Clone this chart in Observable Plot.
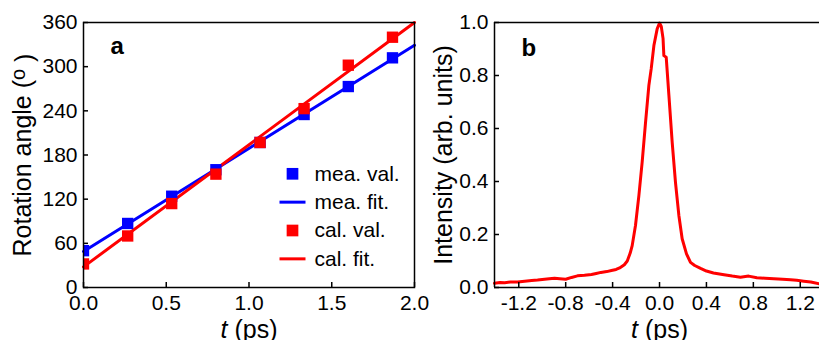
<!DOCTYPE html>
<html>
<head>
<meta charset="utf-8">
<script src="https://cdn.jsdelivr.net/npm/d3@7"></script>
<script src="https://cdn.jsdelivr.net/npm/@observablehq/plot@0.6"></script>
<style>
  html, body { margin: 0; padding: 0; background: #fff; }
  #chart { display: flex; width: 819px; height: 340px; overflow: hidden; }
  #chart svg { overflow: visible; }
</style>
</head>
<body>
<div id="chart"></div>
<script>
// ---------- Panel a data ----------
const timesA = [0, 0.267, 0.533, 0.8, 1.067, 1.333, 1.6, 1.867];
const meaVal = [50, 87, 124, 160, 197, 235, 273, 312];
const calVal = [32, 70, 114, 154, 197, 243, 302, 340];
const fitT = [0, 2];
const meaFit = [49, 329];
const calFit = [28, 360];
const xTicksA = [0, 0.5, 1.0, 1.5, 2.0];
const yTicksA = [0, 60, 120, 180, 240, 300, 360];
const legendLabels = ["mea. val.", "mea. fit.", "cal. val.", "cal. fit."];

// ---------- Panel b data ----------
const pulseT = [-1.407, -1.36, -1.32, -1.27, -1.21, -1.15, -1.09, -1.04, -0.98, -0.94, -0.895, -0.85, -0.80, -0.75,
  -0.70, -0.64, -0.58, -0.54, -0.50, -0.45, -0.41, -0.37, -0.34, -0.30, -0.275, -0.25, -0.233, -0.205, -0.176,
  -0.148, -0.119, -0.091, -0.071, -0.048, -0.020, 0.0, 0.015, 0.030, 0.037, 0.057, 0.080, 0.108, 0.136, 0.165,
  0.193, 0.230, 0.264, 0.30, 0.35, 0.40, 0.46, 0.55, 0.62, 0.69, 0.76, 0.83, 0.90, 0.975, 1.05, 1.117, 1.17, 1.23,
  1.29, 1.364];
const pulseI = [0.016, 0.019, 0.018, 0.021, 0.021, 0.024, 0.026, 0.028, 0.031, 0.033, 0.035, 0.033, 0.031, 0.038,
  0.044, 0.046, 0.049, 0.053, 0.057, 0.060, 0.064, 0.068, 0.074, 0.086, 0.10, 0.13, 0.158, 0.234, 0.347,
  0.473, 0.624, 0.762, 0.825, 0.913, 0.976, 0.998, 0.985, 0.940, 0.875, 0.869, 0.725, 0.548, 0.397, 0.272,
  0.184, 0.127, 0.095, 0.083, 0.072, 0.062, 0.055, 0.048, 0.043, 0.039, 0.043, 0.037, 0.035, 0.033, 0.031, 0.029, 0.027, 0.024,
  0.021, 0.014];
const xDomainB = [-1.407, 1.364];
const yDomainB = [0, 1];
const xTicksB = [-1.2, -0.8, -0.4, 0, 0.4, 0.8, 1.2];
const yTicksB = [0, 0.2, 0.4, 0.6, 0.8, 1.0];

// ---------- styles ----------
const FONT = "'Liberation Sans', Arial, Helvetica, sans-serif";
const BLUE = "#0000ff";
const RED = "#ff0000";
const TICK_FS = 21, LABEL_FS = 25;

const meaRows = timesA.map((t, i) => ({t, v: meaVal[i]}));
const calRows = timesA.map((t, i) => ({t, v: calVal[i]}));
const meaFitRows = fitT.map((t, i) => ({t, v: meaFit[i]}));
const calFitRows = fitT.map((t, i) => ({t, v: calFit[i]}));
const pulseRows = pulseT.map((t, i) => ({t, v: pulseI[i]}));

const dash = {draw(ctx) { ctx.moveTo(-13, 0); ctx.lineTo(13, 0); }};
const legendSpec = [
  {label: legendLabels[0], color: BLUE, kind: "square"},
  {label: legendLabels[1], color: BLUE, kind: "line"},
  {label: legendLabels[2], color: RED, kind: "square"},
  {label: legendLabels[3], color: RED, kind: "line"}
];
const legendMarks = [];
legendSpec.forEach((s, i) => {
  const dy = 151.3 + i * 28.35;
  if (s.kind === "square") {
    legendMarks.push(Plot.dot([s], {frameAnchor: "top-left", dx: 209, dy, symbol: "square", r: 6.6, fill: s.color, stroke: "none"}));
  } else {
    legendMarks.push(Plot.dot([s], {frameAnchor: "top-left", dx: 209, dy, symbol: dash, r: 5, fill: "none", stroke: s.color, strokeWidth: 3}));
  }
  legendMarks.push(Plot.text([s], {frameAnchor: "top-left", dx: 231, dy, text: "label", textAnchor: "start", lineAnchor: "middle", fontSize: TICK_FS, fill: "#000"}));
});

const fmt1 = d => (+d).toFixed(1);

const plotA = Plot.plot({
  width: 420, height: 340,
  marginLeft: 83, marginRight: 6, marginTop: 22, marginBottom: 53,
  style: {fontFamily: FONT, fontSize: TICK_FS + "px", color: "#000", background: "transparent", overflow: "visible"},
  x: {domain: [0, 2]},
  y: {domain: [0, 360]},
  marks: [
    Plot.line(meaFitRows, {x: "t", y: "v", stroke: BLUE, strokeWidth: 3}),
    Plot.line(calFitRows, {x: "t", y: "v", stroke: RED, strokeWidth: 3}),
    Plot.dot(meaRows, {x: "t", y: "v", symbol: "square", r: 6.4, fill: BLUE, stroke: "none", clip: true}),
    Plot.dot(calRows, {x: "t", y: "v", symbol: "square", r: 6.4, fill: RED, stroke: "none", clip: true}),
    Plot.axisX({ticks: xTicksA, tickSize: -5, tickFormat: () => "", label: null, strokeWidth: 1.5}),
    Plot.axisX({ticks: xTicksA, tickSize: 0, tickPadding: 8, tickFormat: fmt1, label: null, fontSize: TICK_FS}),
    Plot.axisY({ticks: yTicksA, tickSize: -5, tickFormat: () => "", label: null, strokeWidth: 1.5}),
    Plot.axisY({ticks: yTicksA, tickSize: 0, tickPadding: 6, tickFormat: d => String(d), label: null, fontSize: TICK_FS}),
    Plot.frame({stroke: "#000", strokeWidth: 1.5}),
    Plot.text(["Rotation angle (o)"], {frameAnchor: "left", dx: -60.5, rotate: -90, textAnchor: "middle", lineAnchor: "middle", fontSize: LABEL_FS, fill: "#000"}),
    Plot.text(["t (ps)"], {frameAnchor: "bottom", dy: 42, textAnchor: "middle", lineAnchor: "middle", fontSize: LABEL_FS, fill: "#000"}),
    Plot.text(["a"], {frameAnchor: "top-left", dx: 27, dy: 14, textAnchor: "start", lineAnchor: "top", fontSize: 24, fontWeight: "bold", fill: "#000"}),
    ...legendMarks
  ]
});

const plotB = Plot.plot({
  width: 399, height: 340,
  marginLeft: 74, marginRight: 0, marginTop: 22, marginBottom: 53,
  style: {fontFamily: FONT, fontSize: TICK_FS + "px", color: "#000", background: "transparent", overflow: "visible"},
  x: {domain: xDomainB},
  y: {domain: yDomainB},
  marks: [
    Plot.line(pulseRows, {x: "t", y: "v", stroke: RED, strokeWidth: 3, strokeLinejoin: "round"}),
    Plot.axisX({ticks: xTicksB, tickSize: -5, tickFormat: () => "", label: null, strokeWidth: 1.5}),
    Plot.axisX({ticks: xTicksB, tickSize: 0, tickPadding: 8, tickFormat: fmt1, label: null, fontSize: TICK_FS}),
    Plot.axisY({ticks: yTicksB, tickSize: -5, tickFormat: () => "", label: null, strokeWidth: 1.5}),
    Plot.axisY({ticks: yTicksB, tickSize: 0, tickPadding: 6, tickFormat: fmt1, label: null, fontSize: TICK_FS}),
    Plot.ruleY(yDomainB, {stroke: "#000", strokeWidth: 1.5}),
    Plot.ruleX([xDomainB[0]], {stroke: "#000", strokeWidth: 1.5}),
    Plot.text(["Intensity (arb. units)"], {frameAnchor: "left", dx: -51, rotate: -90, textAnchor: "middle", lineAnchor: "middle", fontSize: LABEL_FS, fill: "#000"}),
    Plot.text(["t (ps)"], {x: [0], frameAnchor: "bottom", dy: 42, textAnchor: "middle", lineAnchor: "middle", fontSize: LABEL_FS, fill: "#000"}),
    Plot.text(["b"], {frameAnchor: "top-left", dx: 27, dy: 16, textAnchor: "start", lineAnchor: "top", fontSize: 24, fontWeight: "bold", fill: "#000"})
  ]
});

const chart = document.getElementById("chart");
chart.appendChild(plotA);
chart.appendChild(plotB);

// rich text tweaks: italic t, raised degree "o"
document.querySelectorAll("#chart svg text").forEach(t => {
  if (t.textContent === "t (ps)") {
    t.innerHTML = '<tspan font-style="italic">t</tspan> (ps)';
  } else if (t.textContent === "Rotation angle (o)") {
    t.innerHTML = 'Rotation angle (<tspan dy="-0.3em" font-size="0.8em">o</tspan><tspan dy="0.3em"> )</tspan>';
  }
});
</script>
</body>
</html>
